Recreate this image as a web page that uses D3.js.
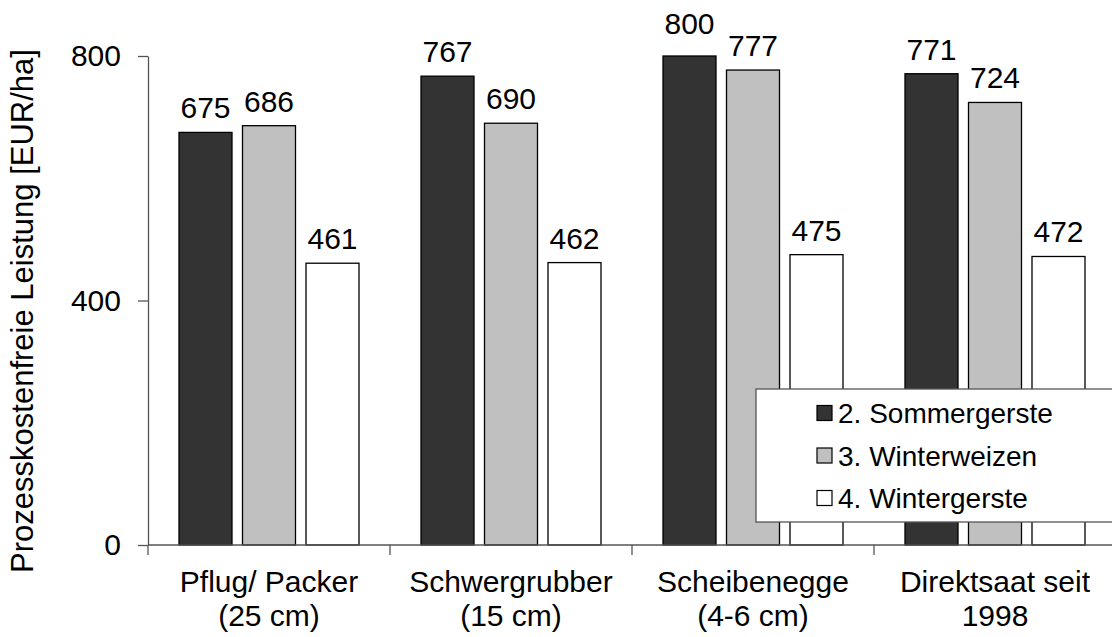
<!DOCTYPE html>
<html>
<head>
<meta charset="utf-8">
<script src="https://cdn.jsdelivr.net/npm/d3@7"></script>
<style>
  html, body { margin: 0; padding: 0; background: #fff; }
  svg { display: block; font-family: "Liberation Sans", Arial, sans-serif; }
</style>
</head>
<body>
<svg id="chart" width="1112" height="637"></svg>
<script>
// Tillage systems (two-line labels) and the crops in the rotation
const categories = [
  ["Pflug/ Packer", "(25 cm)"],
  ["Schwergrubber", "(15 cm)"],
  ["Scheibenegge", "(4-6 cm)"],
  ["Direktsaat seit", "1998"]
];
const seriesNames = ["2. Sommergerste", "3. Winterweizen", "4. Wintergerste"];
const sommergerste = [675, 767, 800, 771];
const winterweizen = [686, 690, 777, 724];
const wintergerste = [461, 462, 475, 472];
const yTicks = [0, 400, 800];
const yTitle = "Prozesskostenfreie Leistung [EUR/ha]";

const seriesValues = [sommergerste, winterweizen, wintergerste];
const fills = ["#333333", "#c0c0c0", "#ffffff"];

const svg = d3.select("#chart");
const x0 = 148, x1 = 1116, yBottom = 545, yTop = 56;
const fontMain = 30;
const yMax = 800;

const x = d3.scaleBand().domain(d3.range(categories.length)).range([x0, x1]).padding(0);
const y = d3.scaleLinear().domain([0, yMax]).range([yBottom, yTop]);
const barW = 53, pitch = 63.5;

// Bars with value labels (labels at the axis maximum sit a little higher)
seriesValues.forEach((vals, s) => {
  const g = svg.append("g");
  g.selectAll("rect").data(vals).join("rect")
    .attr("x", (d, i) => x(i) + x.bandwidth() / 2 + (s - 1) * pitch - barW / 2)
    .attr("y", d => y(d))
    .attr("width", barW)
    .attr("height", d => y(0) - y(d))
    .attr("fill", fills[s])
    .attr("stroke", "#000")
    .attr("stroke-width", 1.3);
  g.selectAll("text").data(vals).join("text")
    .attr("x", (d, i) => x(i) + x.bandwidth() / 2 + (s - 1) * pitch)
    .attr("y", d => y(d) - (d >= yMax ? 22 : 14))
    .attr("text-anchor", "middle")
    .attr("font-size", fontMain)
    .attr("fill", "#000")
    .text(d => d);
});

// Y axis
const yAxis = svg.append("g").attr("transform", `translate(${x0},0)`)
  .call(d3.axisLeft(y).tickValues(yTicks).tickSize(10).tickSizeOuter(0).tickPadding(17));
yAxis.select(".domain").attr("stroke", "#555").attr("stroke-width", 1.3);
yAxis.selectAll(".tick line").attr("stroke", "#555").attr("stroke-width", 1.3);
yAxis.selectAll(".tick text").attr("font-size", fontMain).attr("fill", "#000")
  .attr("font-family", "Liberation Sans, Arial, sans-serif");

// X axis with category separators
const xAxis = svg.append("g").attr("transform", `translate(0,${yBottom})`);
xAxis.append("line").attr("x1", x0).attr("x2", x1).attr("y1", 0).attr("y2", 0)
  .attr("stroke", "#555").attr("stroke-width", 1.3);
xAxis.selectAll("line.sep").data(d3.range(categories.length + 1)).join("line")
  .attr("class", "sep")
  .attr("x1", i => x0 + i * x.bandwidth()).attr("x2", i => x0 + i * x.bandwidth())
  .attr("y1", 0).attr("y2", 10)
  .attr("stroke", "#555").attr("stroke-width", 1.3);
const catLabels = xAxis.selectAll("text.cat").data(categories).join("text")
  .attr("class", "cat")
  .attr("text-anchor", "middle")
  .attr("font-size", fontMain)
  .attr("fill", "#000");
catLabels.each(function(d, i) {
  const t = d3.select(this);
  d.forEach((line, k) => {
    t.append("tspan").attr("x", x(i) + x.bandwidth() / 2).attr("y", 47 + k * 34).text(line);
  });
});

// Y axis title
svg.append("text")
  .attr("transform", `translate(33,${311}) rotate(-90)`)
  .attr("text-anchor", "middle")
  .attr("font-size", 31)
  .attr("fill", "#000")
  .text(yTitle);

// Legend
const lg = svg.append("g").attr("transform", "translate(756,389)");
lg.append("rect").attr("x", 0).attr("y", 0).attr("width", 370).attr("height", 133)
  .attr("fill", "#fff").attr("stroke", "#555").attr("stroke-width", 1.3);
seriesNames.forEach((name, s) => {
  const cy = 24 + s * 42.5;
  lg.append("rect").attr("x", 61).attr("y", cy - 7.5).attr("width", 15).attr("height", 15)
    .attr("fill", fills[s]).attr("stroke", "#000").attr("stroke-width", 1.2);
  lg.append("text").attr("x", 82).attr("y", cy + 10).attr("font-size", 28).attr("fill", "#000").text(name);
});
</script>
</body>
</html>
